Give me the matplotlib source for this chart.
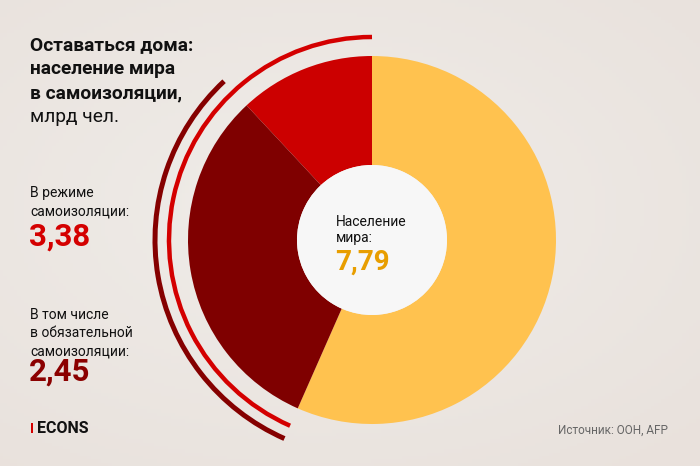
import numpy as np
import matplotlib
matplotlib.use("Agg")
import matplotlib.pyplot as plt
from matplotlib.patches import Wedge, Circle, Arc, Rectangle

plt.rcParams['font.family'] = ['Roboto', 'DejaVu Sans']

# data, bn people
world = 7.79
isolation = 3.38
mandatory = 2.45
voluntary = isolation - mandatory
rest = world - isolation

names = ['rest', 'voluntary', 'mandatory']
values = [rest, voluntary, mandatory]
colors = ['#FFC24F', '#CC0000', '#7F0000']

W, H = 700, 466
fig = plt.figure(figsize=(7, 4.66), dpi=100)
ax = fig.add_axes([0, 0, 1, 1])
ax.set_xlim(0, W)
ax.set_ylim(0, H)
ax.axis('off')

# soft warm background, lighter in the middle
gx, gy = np.meshgrid(np.linspace(0, 1, 200), np.linspace(0, 1, 140))
g = np.sqrt(((gx - 0.45) / 1.0) ** 2 + ((gy - 0.45) / 0.9) ** 2)
c1 = np.array([0.940, 0.929, 0.914])
c2 = np.array([0.914, 0.886, 0.866])
img = c1 + (c2 - c1) * np.clip(g / 0.75, 0, 1)[..., None]
ax.imshow(img, extent=[0, W, 0, H], origin='upper', zorder=0, aspect='auto')

cx, cy = 372, 226
R, r_in = 184, 75

total = sum(values)
# rest goes clockwise from the top
span_rest = 360 * rest / total
ax.add_patch(Wedge((cx, cy), R, 90 - span_rest, 90, width=R - r_in,
                   facecolor=colors[0], edgecolor='none', zorder=2))
# the isolated part goes counterclockwise from the top
a0 = 90
a1 = a0 + 360 * voluntary / total
ax.add_patch(Wedge((cx, cy), R, a0, a1, width=R - r_in,
                   facecolor=colors[1], edgecolor='none', zorder=2))
a2 = a1 + 360 * mandatory / total
ax.add_patch(Wedge((cx, cy), R, a1, a2, width=R - r_in,
                   facecolor=colors[2], edgecolor='none', zorder=2))
ax.add_patch(Circle((cx, cy), r_in, facecolor='#F7F7F7', edgecolor='none', zorder=2))

# outer arcs
ax.add_patch(Arc((cx, cy), 2 * 203, 2 * 203, theta1=a0, theta2=a2,
                 color='#D40000', lw=3.2, zorder=3))
ax.add_patch(Arc((cx, cy), 2 * 217, 2 * 217, theta1=a1, theta2=a2,
                 color='#850000', lw=3.6, zorder=3))

def T(x, y, s, **kw):
    ax.text(x, H - y, s, va='center', ha='left', zorder=5, **kw)

# title
T(30, 45, 'Оставаться дома:', fontsize=13.8, fontweight='bold', color='#111111')
T(30, 69, 'население мира', fontsize=13.8, fontweight='bold', color='#111111')
T(30, 93, 'в самоизоляции,', fontsize=13.8, fontweight='bold', color='#111111')
T(30, 117, 'млрд чел.', fontsize=13.8, color='#111111')

# left labels
T(30, 193, 'В режиме', fontsize=10, color='#111111')
T(30, 212, 'самоизоляции:', fontsize=10, color='#111111')
T(29, 237, f'{isolation:.2f}'.replace('.', ','), fontsize=22.5, fontweight='bold', color='#D40000')

T(30, 315, 'В том числе', fontsize=10, color='#111111')
T(30, 333, 'в обязательной', fontsize=10, color='#111111')
T(30, 351, 'самоизоляции:', fontsize=10, color='#111111')
T(29, 372, f'{mandatory:.2f}'.replace('.', ','), fontsize=22.5, fontweight='bold', color='#8B0000')

# centre
T(336, 222, 'Население', fontsize=10, color='#111111')
T(336, 238, 'мира:', fontsize=10, color='#111111')
T(335, 262, f'{world:.2f}'.replace('.', ','), fontsize=20, fontweight='bold', color='#E89E00')

# footer
ax.add_patch(Rectangle((31, H - 433), 2, 10, facecolor='#D40000', edgecolor='none', zorder=5))
T(37, 428.5, 'ECONS', fontsize=11.5, fontweight='bold', color='#111111')
ax.text(668, H - 430, 'Источник: ООН, AFP', va='center', ha='right', fontsize=8.5,
        color='#666666', zorder=5)

fig.savefig('out.png', dpi=100)
